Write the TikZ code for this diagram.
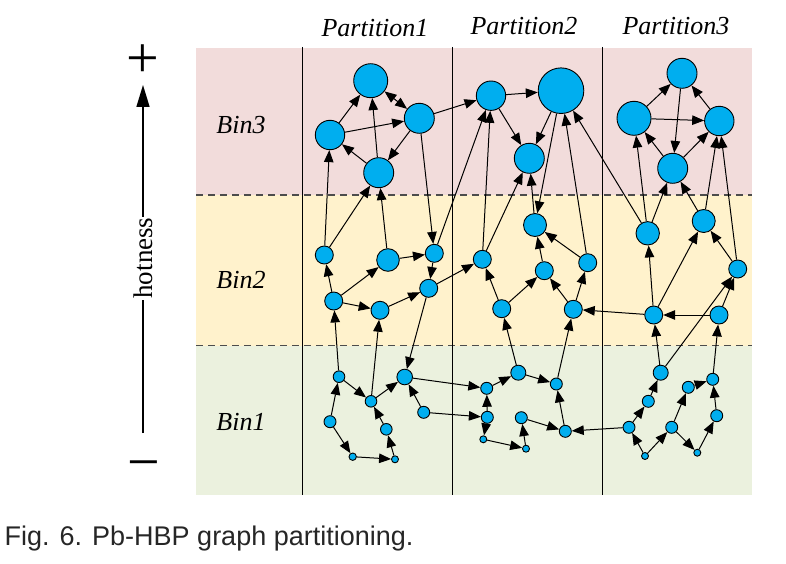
\documentclass[tikz,border=0pt]{standalone}
\usepackage{fontspec}
\setmainfont{Liberation Serif}
\newfontfamily\capfont{Liberation Sans}
\usetikzlibrary{arrows.meta}
\definecolor{nodecyan}{RGB}{0,174,239}
\definecolor{binpink}{RGB}{242,220,219}
\definecolor{bincream}{RGB}{255,242,204}
\definecolor{bingreen}{RGB}{235,241,222}
\begin{document}
\begin{tikzpicture}[x=1pt,y=-1pt,
  vtx/.style={circle,draw=black,fill=nodecyan,inner sep=0pt,line width=0.9pt,minimum size=#1},
  arr/.style={line width=1pt,-{Triangle[length=12pt,width=9.5pt]}},
  darr/.style={line width=1pt,{Triangle[length=12pt,width=9.5pt]}-{Triangle[length=12pt,width=9.5pt]}},
  sepline/.style={line width=0.9pt},
  dsep/.style={line width=1.3pt,draw=black!70,dash pattern=on 7pt off 5pt},
  hdr/.style={font=\fontsize{26}{26}\selectfont\itshape,anchor=base,inner sep=0pt},
  binlbl/.style={font=\fontsize{26}{26}\selectfont\itshape,anchor=base,inner sep=0pt},
  pm/.style={font=\fontsize{58}{58}\selectfont,anchor=base,inner sep=0pt},
]
\useasboundingbox (0,0) rectangle (786,564);
\fill[white] (0,0) rectangle (786,564);
% bins
\fill[binpink] (196,48) rectangle (752,195);
\fill[bincream] (196,195) rectangle (752,345.5);
\fill[bingreen] (196,345.5) rectangle (752,495);
\draw[dsep] (196,195) -- (752,195);
\draw[dsep] (196,345.5) -- (752,345.5);
\draw[sepline] (302.7,47) -- (302.7,495);
\draw[sepline] (452.5,47) -- (452.5,495);
\draw[sepline] (602.5,47) -- (602.5,495);
% headers
\node[hdr] (p1) at (375,36.5) {Partition1};
\node[hdr] (p2) at (524,34.5) {Partition2};
\node[hdr] (p3) at (676,34.5) {Partition3};
\node[binlbl] (b3) at (241,133.3) {Bin3};
\node[binlbl] (b2) at (241,288.3) {Bin2};
\node[binlbl] (b1) at (241,430) {Bin1};
% axis
\coordinate (axbot) at (143,433);
\coordinate (axtop) at (143,85);
\draw[line width=1.6pt,-{Triangle[length=22pt,width=13pt]}] (axbot) -- (axtop);
\node[fill=white,rotate=90,font=\fontsize{27}{27}\selectfont,inner xsep=1pt,inner ysep=1pt] (hot) at (143,258) {hotness};
\node[pm] (plus) at (142.5,77.5) {+};
\node[pm] (minus) at (144,481) {−};
% caption
\node[font=\capfont\fontsize{27}{27}\selectfont,text=black!85,anchor=base west,inner sep=0pt] (cap) at (4.5,545.5) {Fig. 6. Pb-HBP graph partitioning.};
% Bin3 nodes
\node[vtx=34pt] (A1) at (370.7,80.7) {};
\node[vtx=29.4pt] (A2) at (330,135) {};
\node[vtx=30pt] (A3) at (419.3,118.3) {};
\node[vtx=30pt] (A4) at (378.7,172.7) {};
\node[vtx=29.4pt] (B1) at (491,95.7) {};
\node[vtx=45.6pt] (B2) at (561,90.7) {};
\node[vtx=30pt] (B3) at (529.3,158.3) {};
\node[vtx=30pt] (C1) at (682,73.3) {};
\node[vtx=34pt] (C2) at (634,118.3) {};
\node[vtx=29.4pt] (C3) at (719.3,121) {};
\node[vtx=30pt] (C4) at (672.7,168.3) {};
% Bin2 nodes
\node[vtx=18pt] (D1) at (324.3,255) {};
\node[vtx=22.6pt] (D2) at (388,260) {};
\node[vtx=18pt] (D3) at (434.3,253.3) {};
\node[vtx=18pt] (D4) at (333.7,301) {};
\node[vtx=18pt] (D5) at (380,310.3) {};
\node[vtx=18pt] (D6) at (428.7,288.3) {};
\node[vtx=18pt] (E1) at (482.3,259.3) {};
\node[vtx=23pt] (E2) at (535,225) {};
\node[vtx=18pt] (E3) at (544.3,270.7) {};
\node[vtx=18pt] (E4) at (587.7,262.7) {};
\node[vtx=18pt] (E5) at (501.7,308.7) {};
\node[vtx=18pt] (E6) at (573.3,309.3) {};
\node[vtx=23.4pt] (G1) at (647.7,233.3) {};
\node[vtx=23pt] (G2) at (703.7,221) {};
\node[vtx=18pt] (G3) at (737.7,269) {};
\node[vtx=18pt] (G4) at (653.7,315) {};
\node[vtx=18pt] (G5) at (719,315) {};
% Bin1 nodes
\node[vtx=11.6pt] (H1) at (339,376.7) {};
\node[vtx=11.6pt] (H2) at (371,401.3) {};
\node[vtx=15.6pt] (H3) at (404.7,377) {};
\node[vtx=12pt] (H4) at (330,421.7) {};
\node[vtx=11.6pt] (H5) at (386.3,429.3) {};
\node[vtx=12pt] (H6) at (423.7,412.3) {};
\node[vtx=7.4pt] (H7) at (352.7,456.7) {};
\node[vtx=7pt] (H8) at (395,459.3) {};
\node[vtx=12pt] (I1) at (486.7,388.3) {};
\node[vtx=15pt] (I2) at (518.3,372.7) {};
\node[vtx=12pt] (I3) at (556.3,384) {};
\node[vtx=12pt] (I4) at (487.3,417.3) {};
\node[vtx=12pt] (I5) at (521.3,417.7) {};
\node[vtx=12pt] (I6) at (565.3,431.3) {};
\node[vtx=7pt] (I7) at (483.3,439.3) {};
\node[vtx=7pt] (I8) at (526,448.7) {};
\node[vtx=15pt] (J1) at (660.7,372.7) {};
\node[vtx=12pt] (J2) at (648.3,401.3) {};
\node[vtx=12pt] (J3) at (629,427.3) {};
\node[vtx=12pt] (J4) at (688.3,387.3) {};
\node[vtx=12pt] (J5) at (712.7,379.3) {};
\node[vtx=12pt] (J6) at (671.7,427.3) {};
\node[vtx=12pt] (J7) at (716.7,415.7) {};
\node[vtx=7pt] (J8) at (645,456) {};
\node[vtx=7pt] (J9) at (697.3,452.7) {};
% Bin3 edges
\draw[arr] (A2) -- (A1);
\draw[darr] (A1) -- (A3);
\draw[arr] (A2) -- (A3);
\draw[arr] (A4) -- (A1);
\draw[arr] (A4) -- (A2);
\draw[arr] (A3) -- (A4);
\draw[arr] (A3) -- (B1);
\draw[arr] (A3) -- (D3);
\draw[arr] (D1) -- (A2);
\draw[arr] (D1) -- (A4);
\draw[arr] (D2) -- (A4);
\draw[arr] (B1) -- (B2);
\draw[arr] (B1) -- (B3);
\draw[arr] (B2) -- (B3);
\draw[arr] (B2) -- (E2);
\draw[arr] (E4) -- (B2);
\draw[arr] (G1) -- (B2);
\draw[arr] (D3) -- (B1);
\draw[arr] (E1) -- (B1);
\draw[arr] (E1) -- (B3);
\draw[arr] (E2) -- (B3);
\draw[arr] (C2) -- (C1);
\draw[arr] (C1) -- (C4);
\draw[arr] (C3) -- (C1);
\draw[arr] (C2) -- (C3);
\draw[arr] (C4) -- (C2);
\draw[arr] (C4) -- (C3);
\draw[arr] (G1) -- (C2);
\draw[arr] (G1) -- (C4);
\draw[arr] (G2) -- (C4);
\draw[arr] (G2) -- (C3);
\draw[arr] (G3) -- (C3);
% Bin2 edges
\draw[arr] (D4) -- (D1);
\draw[arr] (D4) -- (D2);
\draw[arr] (D4) -- (D5);
\draw[arr] (D5) -- (D6);
\draw[arr] (D2) -- (D3);
\draw[arr] (D3) -- (D6);
\draw[arr] (D6) -- (E1);
\draw[arr] (H1) -- (D4);
\draw[arr] (H2) -- (D5);
\draw[arr] (D6) -- (H3);
\draw[arr] (E5) -- (E1);
\draw[arr] (E5) -- (E3);
\draw[arr] (E3) -- (E2);
\draw[arr] (E4) -- (E2);
\draw[arr] (E6) -- (E3);
\draw[arr] (E6) -- (E4);
\draw[arr] (G4) -- (E6);
\draw[arr] (I2) -- (E5);
\draw[arr] (I3) -- (E6);
\draw[arr] (G5) -- (G4);
\draw[arr] (G4) -- (G1);
\draw[arr] (G4) -- (G2);
\draw[arr] (G3) -- (G2);
\draw[arr] (G5) -- (G3);
\draw[arr] (J1) -- (G4);
\draw[arr] (J1) -- (G3);
\draw[arr] (J5) -- (G5);
% Bin1 edges
\draw[arr] (H1) -- (H2);
\draw[arr] (H2) -- (H3);
\draw[arr] (H4) -- (H1);
\draw[arr] (H4) -- (H7);
\draw[arr] (H7) -- (H8);
\draw[arr] (H8) -- (H5);
\draw[arr] (H5) -- (H2);
\draw[arr] (H6) -- (H3);
\draw[arr] (H3) -- (I1);
\draw[arr] (H6) -- (I4);
\draw[arr] (I1) -- (I2);
\draw[arr] (I4) -- (I1);
\draw[arr] (I4) -- (I7);
\draw[arr] (I7) -- (I8);
\draw[arr] (I8) -- (I5);
\draw[arr] (I5) -- (I6);
\draw[arr] (I6) -- (I3);
\draw[arr] (I2) -- (I3);
\draw[arr] (J3) -- (I6);
\draw[arr] (J3) -- (J2);
\draw[arr] (J2) -- (J1);
\draw[arr] (J8) -- (J3);
\draw[arr] (J8) -- (J6);
\draw[arr] (J6) -- (J4);
\draw[arr] (J6) -- (J9);
\draw[arr] (J9) -- (J7);
\draw[arr] (J7) -- (J5);
\draw[arr] (J4) -- (J5);
\end{tikzpicture}
\end{document}
